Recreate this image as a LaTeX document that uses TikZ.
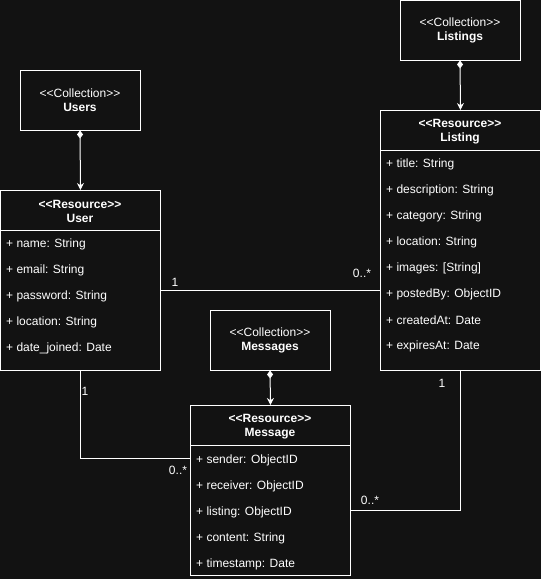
\documentclass[tikz,border=0pt]{standalone}
\usepackage{fontspec}
\setmainfont{Liberation Sans}
\usetikzlibrary{arrows.meta}
\definecolor{bg}{HTML}{121212}
\newcommand\stO{<\kern0pt<}
\newcommand\stC{>\kern0pt>}
\begin{document}
\begin{tikzpicture}[x=1pt,y=-1pt,
  every node/.style={text=white,font=\fontsize{12}{14}\selectfont},
  cbox/.style={draw=white,line width=1pt,fill=bg,minimum width=120pt,minimum height=60pt,align=center,inner sep=0pt},
  rbox/.style={draw=white,line width=1pt,fill=bg,anchor=north west,minimum width=160pt,inner sep=0pt},
  hdr/.style={align=center,font=\bfseries\fontsize{12}{14}\selectfont,inner sep=0pt},
  attr/.style={anchor=west,inner sep=0pt,yshift=-1.5pt},
  mult/.style={inner sep=0pt},
  comp/.style={draw=white,line width=1pt,{Diamond[length=8pt,width=6pt]}-{Stealth[length=7pt,width=7pt]}},
  assoc/.style={draw=white,line width=1pt}]
\useasboundingbox[fill=bg] (0,0) rectangle (541,579);

% collections
\node[cbox] (usersC) at (80,100) {\stO Collection\stC\\\textbf{Users}};
\node[cbox] (listingsC) at (460,30) {\stO Collection\stC\\\textbf{Listings}};
\node[cbox] (messagesC) at (270,340) {\stO Collection\stC\\\textbf{Messages}};

% User
\node[rbox,minimum height=180pt] (user) at (0,190) {};
\node[hdr] (userH) at (80,211.5) {\stO Resource\stC\\User};
\draw[assoc] (0,230) -- (160,230);
\node[attr] (u1) at (6,243) {+ name: String};
\node[attr] (u2) at (6,269) {+ email: String};
\node[attr] (u3) at (6,295) {+ password: String};
\node[attr] (u4) at (6,321) {+ location: String};
\node[attr] (u5) at (6,347) {+ date\_joined: Date};

% Listing
\node[rbox,minimum height=260pt] (listing) at (380,110) {};
\node[hdr] (listingH) at (460,131.5) {\stO Resource\stC\\Listing};
\draw[assoc] (380,150) -- (540,150);
\node[attr] (l1) at (386,163) {+ title: String};
\node[attr] (l2) at (386,189) {+ description: String};
\node[attr] (l3) at (386,215) {+ category: String};
\node[attr] (l4) at (386,241) {+ location: String};
\node[attr] (l5) at (386,267) {+ images: [String]};
\node[attr] (l6) at (386,293) {+ postedBy: ObjectID};
\node[attr] (l7) at (386,319) {+ createdAt: Date};
\node[attr] (l8) at (386,345) {+ expiresAt: Date};

% Message
\node[rbox,minimum height=170pt] (message) at (190,405) {};
\node[hdr] (messageH) at (270,426.5) {\stO Resource\stC\\Message};
\draw[assoc] (190,445) -- (350,445);
\node[attr] (m1) at (196,459) {+ sender: ObjectID};
\node[attr] (m2) at (196,485) {+ receiver: ObjectID};
\node[attr] (m3) at (196,511) {+ listing: ObjectID};
\node[attr] (m4) at (196,537) {+ content: String};
\node[attr] (m5) at (196,563) {+ timestamp: Date};

% compositions
\draw[comp] (usersC.south) -- (user.north);
\draw[comp] (listingsC.south) -- (listing.north);
\draw[comp] (messagesC.south) -- (message.north);

% associations
\draw[assoc] (user.east |- 0,290) -- (listing.west |- 0,290);
\draw[assoc] (user.south) |- (message.west |- 0,458);
\draw[assoc] (listing.south) |- (message.east |- 0,510);

\node[mult] (a1) at (175,282) {1};
\node[mult] (a2) at (362,273) {0..*};
\node[mult] (b1) at (85,391) {1};
\node[mult] (b2) at (178,470) {0..*};
\node[mult] (c1) at (442,383) {1};
\node[mult] (c2) at (370,500) {0..*};
\end{tikzpicture}
\end{document}
